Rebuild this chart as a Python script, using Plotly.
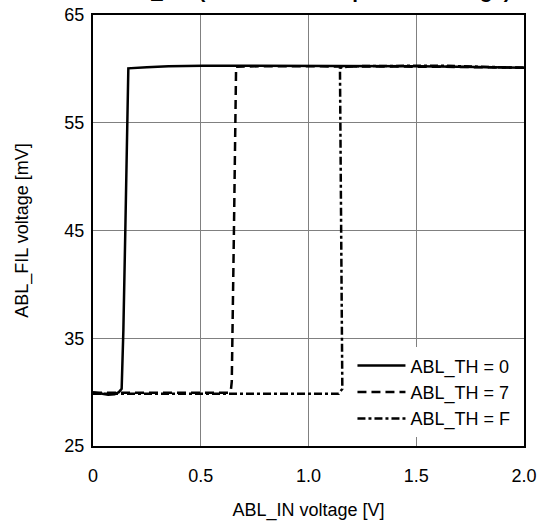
import plotly.graph_objects as go

# ---------------- data ----------------
x_th0 = [0, 0.03, 0.07, 0.10, 0.12, 0.133, 0.141, 0.150, 0.159, 0.164, 0.25, 0.35, 0.51, 0.7, 0.9, 1.1, 1.3, 1.5, 1.7, 1.9, 2.0]
y_th0 = [30.0, 29.9, 29.75, 29.8, 30.0, 30.3, 35.8, 45.0, 55.0, 60.05, 60.15, 60.25, 60.3, 60.3, 60.3, 60.3, 60.3, 60.25, 60.2, 60.15, 60.1]

x_th7 = [0, 0.2, 0.4, 0.6, 0.627, 0.640, 0.644, 0.654, 0.664, 0.8, 1.0, 1.2, 1.4, 1.6, 1.8, 2.0]
y_th7 = [29.95, 29.95, 29.95, 29.95, 29.95, 30.2, 31.0, 45.0, 60.2, 60.25, 60.25, 60.25, 60.25, 60.2, 60.15, 60.1]

x_thF = [0, 0.3, 0.6, 0.9, 1.14, 1.157, 1.153, 1.148, 1.146, 1.2, 1.4, 1.6, 1.8, 2.0]
y_thF = [29.85, 29.85, 29.85, 29.85, 29.85, 30.3, 40.0, 50.0, 60.1, 60.25, 60.3, 60.3, 60.2, 60.1]

series_names = ["ABL_TH = 0", "ABL_TH = 7", "ABL_TH = F"]

x_tickvals = [0, 0.5, 1.0, 1.5, 2.0]
x_ticktext = ["0", "0.5", "1.0", "1.5", "2.0"]
y_tickvals = [25, 35, 45, 55, 65]
y_ticktext = ["25", "35", "45", "55", "65"]

title_text = "ABL_FIL (Threshold comparison voltage)"
x_title = "ABL_IN voltage [V]"
y_title = "ABL_FIL voltage [mV]"

FONT = "Liberation Sans, Arial, sans-serif"

fig = go.Figure()
dashes = ["solid", "9px,5px", "8px,3px,3px,3px"]
for xs, ys, name, d in zip([x_th0, x_th7, x_thF], [y_th0, y_th7, y_thF], series_names, dashes):
    fig.add_trace(go.Scatter(
        x=xs, y=ys, mode="lines", name=name,
        line=dict(color="black", width=2.5, dash=d),
    ))

fig.update_layout(
    template="none",
    width=545, height=523,
    margin=dict(l=93, r=21, t=15, b=77, autoexpand=False),
    paper_bgcolor="white", plot_bgcolor="white",
    font=dict(family=FONT, size=18, color="black"),
    showlegend=True,
    legend=dict(
        x=0.602, y=0.02, xanchor="left", yanchor="bottom",
        bgcolor="white", borderwidth=0,
        font=dict(size=18, family=FONT, color="black"),
        itemwidth=48,
    ),
    annotations=[dict(
        text="<b>" + title_text + "</b>",
        xref="paper", yref="paper", x=0.503, y=1.0252,
        xanchor="center", yanchor="bottom", showarrow=False,
        font=dict(size=20.5, family=FONT, color="black"),
    )],
)

fig.update_xaxes(
    range=[0, 2], tickvals=x_tickvals, ticktext=x_ticktext,
    showgrid=True, gridcolor="#808080", gridwidth=1,
    showline=True, linecolor="black", linewidth=2, mirror=True,
    ticks="", ticklabelstandoff=12, automargin=False,
    zeroline=False,
    title=dict(text=x_title, standoff=19, font=dict(size=18)),
)
fig.update_yaxes(
    range=[25, 65], tickvals=y_tickvals, ticktext=y_ticktext,
    showgrid=True, gridcolor="#808080", gridwidth=1,
    showline=True, linecolor="black", linewidth=2, mirror=True,
    ticks="", ticklabelstandoff=3, automargin=False,
    zeroline=False,
    title=dict(text=y_title, standoff=31, font=dict(size=18)),
)

fig.write_html("out.html", config={"displayModeBar": False},
               post_script="document.body.style.margin='0';")
